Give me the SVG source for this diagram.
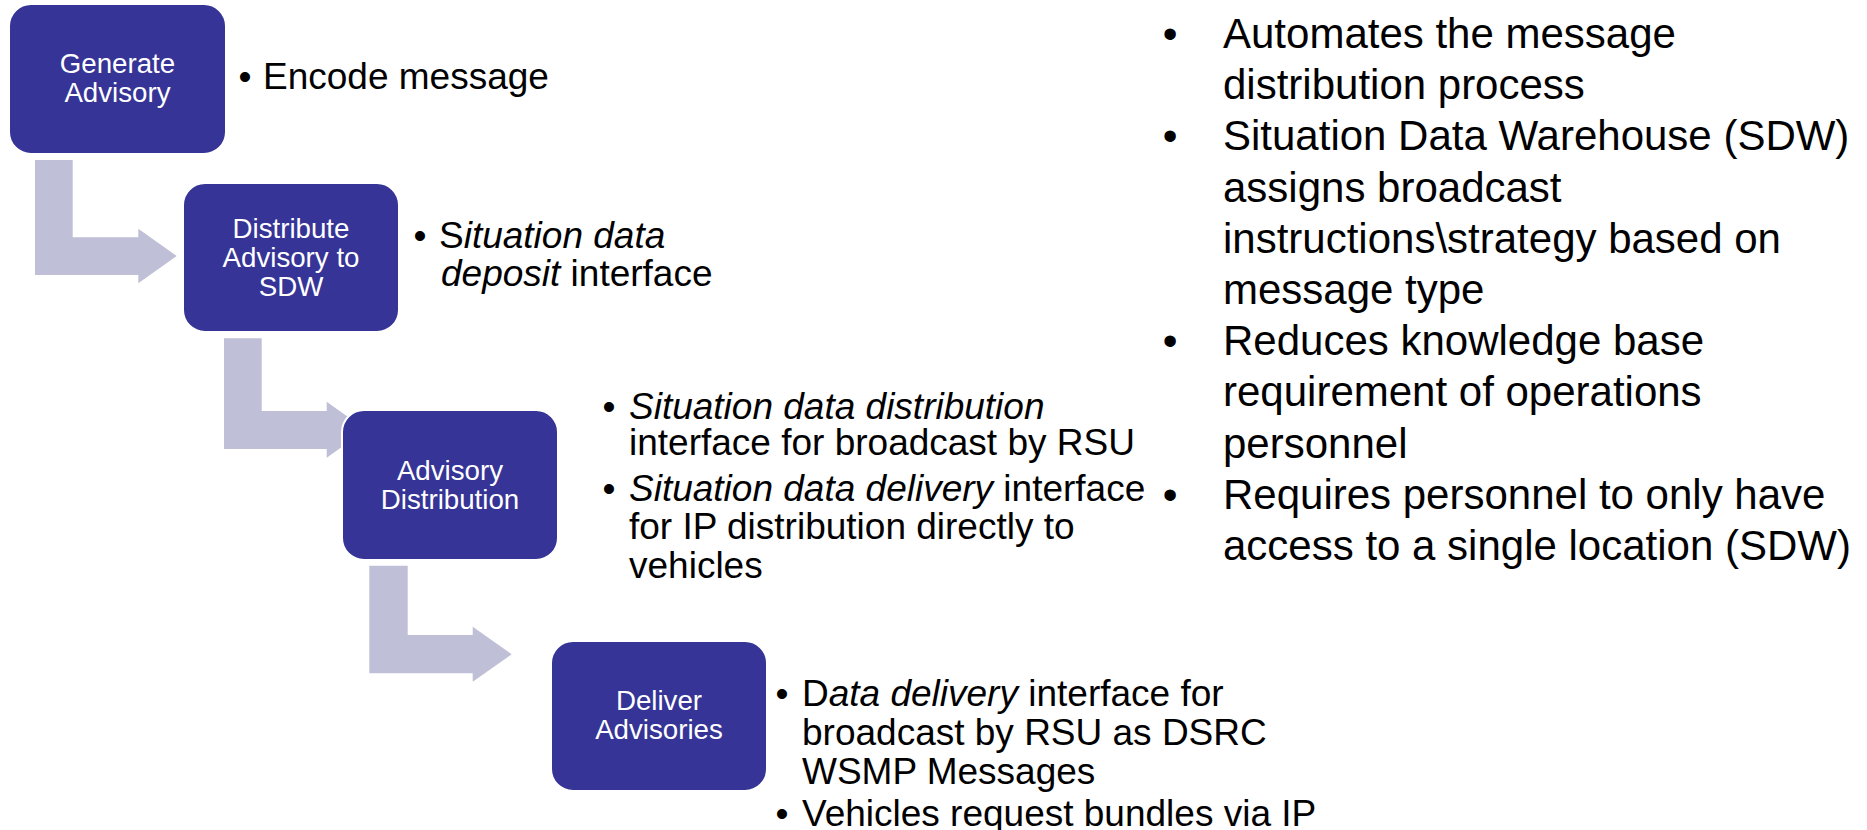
<svg xmlns="http://www.w3.org/2000/svg" width="1867" height="830" viewBox="0 0 1867 830">
<style>
  .box { fill: #363496; stroke: #ffffff; stroke-width: 2; }
  .arrow { fill: #bfbfd7; stroke: none; }
  .bt { font-family: "Liberation Sans", Arial, sans-serif; font-size: 27.7px; fill: #ffffff; text-anchor: middle; }
  .tx { font-family: "Liberation Sans", Arial, sans-serif; font-size: 37px; fill: #000000; }
  .rt { font-family: "Liberation Sans", Arial, sans-serif; font-size: 42px; fill: #000000; }
  .bul { text-anchor: middle; }
  .i { font-style: italic; }
</style>
<rect x="0" y="0" width="1867" height="830" fill="#ffffff"/>
<g id="connectors">
  <path class="arrow" d="M35,160 H72.7 V237.3 H138.3 V228.7 L176.7,256 L138.3,283.3 V275 H35 Z"/>
  <path class="arrow" d="M224,338.3 H261.7 V411 H326.7 V401.7 L366,429.7 L326.7,457.7 V449 H224 Z"/>
  <path class="arrow" d="M369.3,565.7 H407.7 V635 H472.7 V626.7 L511.7,654.3 L472.7,681.7 V673.3 H369.3 Z"/>
</g>
<g id="node-generate-advisory">
  <rect class="box" x="9" y="4" width="217" height="150" rx="22" ry="22"/>
  <text class="bt" x="117.5" y="72.7">Generate</text>
  <text class="bt" x="117.5" y="101.7">Advisory</text>
  <text class="tx bul" x="245" y="89">•</text>
  <text class="tx" x="263" y="89">Encode message</text>
</g>
<g id="node-distribute-advisory">
  <rect class="box" x="183" y="183" width="216" height="149" rx="22" ry="22"/>
  <text class="bt" x="291" y="237.5">Distribute</text>
  <text class="bt" x="291" y="266.5">Advisory to</text>
  <text class="bt" x="291" y="295.5">SDW</text>
  <text class="tx bul" x="420" y="247.5">•</text>
  <text class="tx" x="439" y="247.5">S<tspan class="i">ituation data</tspan></text>
  <text class="tx" x="441" y="285.5"><tspan class="i">deposit</tspan> interface</text>
</g>
<g id="node-advisory-distribution">
  <rect class="box" x="342" y="410" width="216" height="150" rx="22" ry="22"/>
  <text class="bt" x="450" y="480">Advisory</text>
  <text class="bt" x="450" y="509">Distribution</text>
  <text class="tx bul" x="609" y="418.5">•</text>
  <text class="tx i" x="629" y="418.5">Situation data distribution</text>
  <text class="tx" x="629" y="455">interface for broadcast by RSU</text>
  <text class="tx bul" x="609" y="500.5">•</text>
  <text class="tx" x="629" y="500.5"><tspan class="i">Situation data delivery</tspan> interface</text>
  <text class="tx" x="629" y="538.5">for IP distribution directly to</text>
  <text class="tx" x="629" y="578">vehicles</text>
</g>
<g id="node-deliver-advisories">
  <rect class="box" x="551" y="641" width="216" height="150" rx="22" ry="22"/>
  <text class="bt" x="659" y="710">Deliver</text>
  <text class="bt" x="659" y="739.3">Advisories</text>
  <text class="tx bul" x="782" y="705.5">•</text>
  <text class="tx" x="802" y="705.5">D<tspan class="i">ata delivery</tspan> interface for</text>
  <text class="tx" x="802" y="744.5">broadcast by RSU as DSRC</text>
  <text class="tx" x="802" y="783.5">WSMP Messages</text>
  <text class="tx bul" x="782" y="826">•</text>
  <text class="tx" x="802" y="826">Vehicles request bundles via IP</text>
</g>
<g id="notes">
  <text class="rt bul" x="1170" y="48">•</text>
  <text class="rt" x="1223" y="48">Automates the message</text>
  <text class="rt" x="1223" y="99.2">distribution process</text>
  <text class="rt bul" x="1170" y="150.4">•</text>
  <text class="rt" x="1223" y="150.4">Situation Data Warehouse (SDW)</text>
  <text class="rt" x="1223" y="201.6">assigns broadcast</text>
  <text class="rt" x="1223" y="252.8">instructions\strategy based on</text>
  <text class="rt" x="1223" y="304">message type</text>
  <text class="rt bul" x="1170" y="355.2">•</text>
  <text class="rt" x="1223" y="355.2">Reduces knowledge base</text>
  <text class="rt" x="1223" y="406.4">requirement of operations</text>
  <text class="rt" x="1223" y="457.6">personnel</text>
  <text class="rt bul" x="1170" y="508.8">•</text>
  <text class="rt" x="1223" y="508.8">Requires personnel to only have</text>
  <text class="rt" x="1223" y="560">access to a single location (SDW)</text>
</g>
</svg>
